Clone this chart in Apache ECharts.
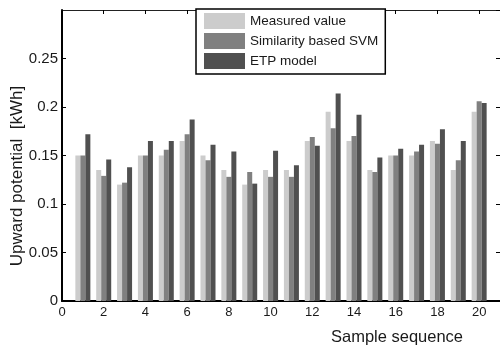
<!DOCTYPE html>
<html>
<head>
<meta charset="utf-8">
<script src="https://cdn.jsdelivr.net/npm/echarts@6/dist/echarts.min.js"></script>
<style>
  html, body { margin: 0; padding: 0; background: #fff; }
  #chart { width: 500px; height: 350px; }
</style>
</head>
<body>
<div id="chart"></div>
<script>
const SAMPLES = [1, 2, 3, 4, 5, 6, 7, 8, 9, 10, 11, 12, 13, 14, 15, 16, 17, 18, 19, 20];
const MEASURED = [0.15, 0.135, 0.12, 0.15, 0.15, 0.165, 0.15, 0.135, 0.12, 0.135,
  0.135, 0.165, 0.195, 0.165, 0.135, 0.15, 0.15, 0.165, 0.135, 0.195];
const SVM = [0.15, 0.129, 0.122, 0.15, 0.156, 0.172, 0.145, 0.128, 0.133, 0.128,
  0.128, 0.169, 0.178, 0.17, 0.133, 0.15, 0.154, 0.162, 0.145, 0.206];
const ETP = [0.172, 0.146, 0.138, 0.165, 0.165, 0.187, 0.161, 0.154, 0.121, 0.155,
  0.14, 0.16, 0.214, 0.192, 0.148, 0.157, 0.161, 0.177, 0.165, 0.204];

const SERIES_NAMES = ["Measured value", "Similarity based SVM", "ETP model"];
const SERIES_COLORS = ["#cccccc", "#808080", "#505050"];
const FONT = "Liberation Sans";
const TEXT_COLOR = "#1a1a1a";

const chart = echarts.init(document.getElementById("chart"));

const toPoints = (values) => SAMPLES.map((x, i) => [x, values[i]]);

// matlab-style box: every side drawn, ticks pointing inward
const frameX = (extra) => ({
  type: "value",
  min: 0,
  max: 21,
  interval: 2,
  splitLine: { show: false },
  axisTick: { inside: true, length: 4, lineStyle: { color: "#000" } },
  ...extra,
});

const frameY = (extra) => ({
  type: "value",
  min: 0,
  max: 0.3,
  interval: 0.05,
  splitLine: { show: false },
  axisTick: { inside: true, length: 4, lineStyle: { color: "#000" } },
  ...extra,
});

chart.setOption({
  animation: false,
  textStyle: { fontFamily: FONT },
  grid: { left: 62, top: 10, width: 439, height: 291 },
  legend: {
    orient: "vertical",
    left: 196,
    top: 9,
    icon: "rect",
    itemWidth: 41,
    itemHeight: 16,
    itemGap: 4,
    padding: [4, 7, 5, 8],
    borderColor: "#000",
    borderWidth: 1.5,
    backgroundColor: "#fff",
    textStyle: { fontFamily: FONT, fontSize: 13.5, color: TEXT_COLOR },
    data: SERIES_NAMES,
  },
  xAxis: [
    frameX({
      position: "bottom",
      axisLine: { onZero: false, lineStyle: { color: "#000", width: 2 } },
      axisLabel: {
        showMaxLabel: false,
        fontSize: 13,
        margin: 5,
        color: TEXT_COLOR,
        fontFamily: FONT,
      },
    }),
    frameX({
      position: "top",
      axisLine: { onZero: false, lineStyle: { color: "#222", width: 1 } },
      axisLabel: { show: false },
    }),
  ],
  yAxis: [
    frameY({
      position: "left",
      axisLine: { onZero: false, lineStyle: { color: "#000", width: 2 } },
      axisLabel: {
        showMaxLabel: false,
        fontSize: 15,
        margin: 4,
        color: TEXT_COLOR,
        fontFamily: FONT,
      },
    }),
    frameY({
      position: "right",
      axisLine: { onZero: false, lineStyle: { color: "#222", width: 1 } },
      axisLabel: { show: false },
    }),
  ],
  graphic: [
    {
      type: "text",
      x: 397,
      y: 337,
      style: {
        text: "Sample sequence",
        font: "16.5px " + FONT,
        fill: TEXT_COLOR,
        align: "center",
        verticalAlign: "middle",
      },
    },
    {
      type: "text",
      x: 17,
      y: 176,
      rotation: Math.PI / 2,
      style: {
        text: "Upward potential  [kWh]",
        font: "17px " + FONT,
        fill: TEXT_COLOR,
        align: "center",
        verticalAlign: "middle",
      },
    },
  ],
  series: [MEASURED, SVM, ETP].map((values, i) => ({
    name: SERIES_NAMES[i],
    type: "bar",
    xAxisIndex: 0,
    yAxisIndex: 0,
    barWidth: 5,
    barGap: "0%",
    itemStyle: { color: SERIES_COLORS[i] },
    data: toPoints(values),
  })),
});
</script>
</body>
</html>
